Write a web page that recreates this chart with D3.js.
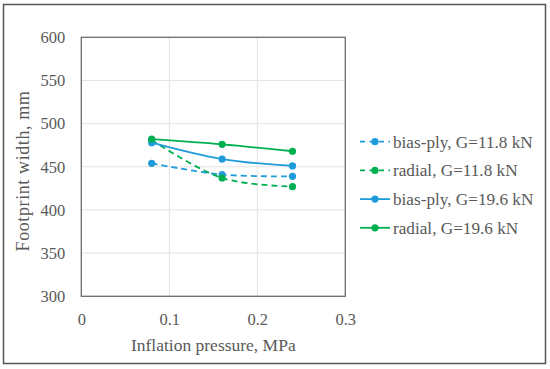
<!DOCTYPE html>
<html><head><meta charset="utf-8">
<script src="https://cdn.jsdelivr.net/npm/d3@7"></script>
<style>body{margin:0;background:#fff}svg{display:block}</style>
</head><body>
<script>
const pressures = [0.08, 0.16, 0.24];
const biasPly118 = [454, 441, 439];
const radial118 = [481, 437, 427];
const biasPly196 = [478, 459, 451];
const radial196 = [482, 476, 468];
const seriesNames = ["bias-ply, G=11.8 kN", "radial, G=11.8 kN", "bias-ply, G=19.6 kN", "radial, G=19.6 kN"];
const xTicks = [0, 0.1, 0.2, 0.3];
const yTicks = [300, 350, 400, 450, 500, 550, 600];

const W = 550, H = 369;
const blue = "#1f9bdb", green = "#00b050";
const series = [
  {name: seriesNames[0], vals: biasPly118, color: blue, dash: "6,4"},
  {name: seriesNames[1], vals: radial118, color: green, dash: "6,4"},
  {name: seriesNames[2], vals: biasPly196, color: blue, dash: null},
  {name: seriesNames[3], vals: radial196, color: green, dash: null}
];
const font = "'Liberation Serif', 'DejaVu Serif', serif";
const svg = d3.select("body").append("svg").attr("width", W).attr("height", H);
svg.append("rect").attr("x", 3.5).attr("y", 4.5).attr("width", 542).attr("height", 359)
  .attr("fill", "#fff").attr("stroke", "#555").attr("stroke-width", 1.5);

const x = d3.scaleLinear().domain([0, 0.3]).range([81.3, 345.3]);
const y = d3.scaleLinear().domain([300, 600]).range([296.3, 37.3]);

const g = svg.append("g");
g.selectAll(".gy").data(yTicks).join("line")
  .attr("x1", x(0)).attr("x2", x(0.3)).attr("y1", d => y(d)).attr("y2", d => y(d))
  .attr("stroke", "#e3e3e3").attr("stroke-width", 1);
g.selectAll(".gx").data(xTicks).join("line")
  .attr("x1", d => x(d)).attr("x2", d => x(d)).attr("y1", y(300)).attr("y2", y(600))
  .attr("stroke", "#e3e3e3").attr("stroke-width", 1);
g.append("rect").attr("x", x(0)).attr("y", y(600)).attr("width", x(0.3) - x(0)).attr("height", y(300) - y(600))
  .attr("fill", "none").attr("stroke", "#6e6e6e").attr("stroke-width", 1.3);

const yAxis = d3.axisLeft(y).tickValues(yTicks).tickSize(0).tickPadding(16);
const ya = svg.append("g").attr("transform", `translate(${x(0)},0)`).call(yAxis);
const xAxis = d3.axisBottom(x).tickValues(xTicks).tickFormat(d => d === 0 ? "0" : d3.format(".1f")(d)).tickSize(0).tickPadding(17);
const xa = svg.append("g").attr("transform", `translate(0,${y(300)})`).call(xAxis);
[ya, xa].forEach(a => {
  a.select(".domain").remove();
  a.selectAll("text").attr("font-family", font).attr("font-size", 16.5).attr("fill", "#595959");
});

svg.append("text").attr("x", 213.3).attr("y", 351).attr("text-anchor", "middle")
  .attr("font-family", font).attr("font-size", 17.5).attr("fill", "#595959").text("Inflation pressure, MPa");
svg.append("text").attr("transform", "translate(29,171) rotate(-90)").attr("text-anchor", "middle")
  .attr("font-family", font).attr("font-size", 18).attr("letter-spacing", 0.6).attr("fill", "#595959").text("Footprint width, mm");

const line = d3.line().x((d, i) => x(pressures[i])).y(d => y(d)).curve(d3.curveCatmullRom.alpha(0.5));
series.forEach(s => {
  svg.append("path").datum(s.vals).attr("d", line).attr("fill", "none")
    .attr("stroke", s.color).attr("stroke-width", 1.8).attr("stroke-dasharray", s.dash);
  svg.selectAll(null).data(s.vals).join("circle")
    .attr("cx", (d, i) => x(pressures[i])).attr("cy", d => y(d)).attr("r", 3.6).attr("fill", s.color);
});

const lg = svg.append("g");
series.forEach((s, i) => {
  const ly = 141.7 + i * 28.7;
  lg.append("line").attr("x1", 360).attr("x2", 390).attr("y1", ly).attr("y2", ly)
    .attr("stroke", s.color).attr("stroke-width", 1.8).attr("stroke-dasharray", s.dash ? "5,4.5" : null);
  lg.append("circle").attr("cx", 375).attr("cy", ly).attr("r", 3.6).attr("fill", s.color);
  lg.append("text").attr("x", 393).attr("y", ly).attr("dy", "0.35em")
    .attr("font-family", font).attr("font-size", 17.2).attr("fill", "#595959").text(s.name);
});
</script>
</body></html>
